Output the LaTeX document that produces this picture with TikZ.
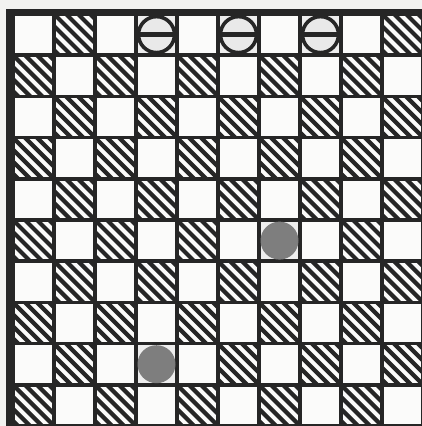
\documentclass[tikz,border=0pt]{standalone}
\definecolor{paper}{HTML}{F2F2F0}
\definecolor{ink}{HTML}{262626}
\definecolor{cellw}{HTML}{FBFBFA}
\definecolor{piececell}{HTML}{EEEEEE}
\definecolor{stone}{HTML}{7E7E7E}
\definecolor{pieceface}{HTML}{E9E9E9}
\tikzset{
  hatchline/.style={ink, line width=4.2pt},
  whitepiece/.style={circle, draw=ink, line width=3.6pt, fill=pieceface, minimum size=36pt, inner sep=0pt},
  blackpiece/.style={circle, fill=stone, minimum size=38pt, inner sep=0pt},
  pieceband/.style={ink, line width=5.5pt},
}
\begin{document}
\begin{tikzpicture}[x=1pt,y=-1pt]
\useasboundingbox (0,0) rectangle (422,426);
\fill[paper] (0,0) rectangle (422,426);
% board frame and grid background
\fill[ink] (6,9) rectangle (440,440);
% cells
\foreach \r in {0,...,9}{
  \foreach \c in {0,...,9}{
    \pgfmathsetmacro{\xa}{13+41*\c+1.8}
    \pgfmathsetmacro{\ya}{14+41.2*\r+1.8}
    \pgfmathsetmacro{\xb}{13+41*(\c+1)-1.8}
    \pgfmathsetmacro{\yb}{14+41.2*(\r+1)-1.8}
    \fill[cellw] (\xa,\ya) rectangle (\xb,\yb);
    \pgfmathtruncatemacro{\odd}{mod(\r+\c,2)}
    \ifnum\odd=1
      \begin{scope}
        \clip (\xa,\ya) rectangle (\xb,\yb);
        \foreach \k in {0,12,...,72}{
          \draw[hatchline] (\xa-46+\k,\ya-10) -- ++(60,60);
        }
      \end{scope}
    \fi
  }
}
% squares occupied by pieces
\foreach \r/\c in {0/3,0/5,0/7,5/6,8/3}{
  \fill[piececell] (13+41*\c+1.8,14+41.2*\r+1.8) rectangle (13+41*\c+41-1.8,14+41.2*\r+41.2-1.8);
}
% white pieces
\node[whitepiece] (w1) at (13+41*3.5,14+41.2*0.5) {};
\node[whitepiece] (w2) at (13+41*5.5,14+41.2*0.5) {};
\node[whitepiece] (w3) at (13+41*7.5,14+41.2*0.5) {};
\foreach \n in {w1,w2,w3}{
  \draw[pieceband] (\n.west) -- (\n.east);
}
% black pieces
\node[blackpiece] (b1) at (13+41*6.5,14+41.2*5.5) {};
\node[blackpiece] (b2) at (13+41*3.5,14+41.2*8.5) {};
\end{tikzpicture}
\end{document}
